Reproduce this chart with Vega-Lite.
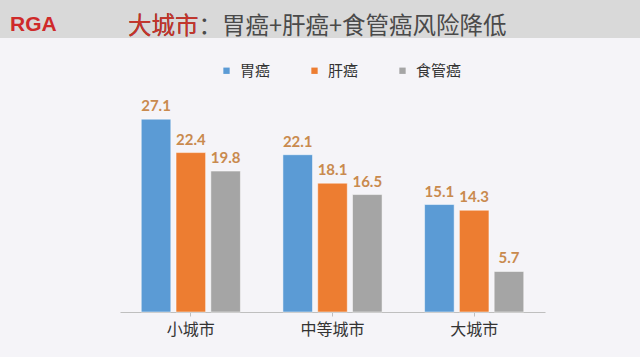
{
  "$schema": "https://vega.github.io/schema/vega-lite/v6.json",
  "background": "#f5f4f8",
  "padding": {"left": 0, "top": 0, "right": 0, "bottom": 20},
  "spacing": 0,
  "title": {
    "text": "RGA",
    "anchor": "start",
    "frame": "group",
    "dx": 10,
    "offset": -35,
    "font": "Liberation Sans",
    "fontSize": 21,
    "fontWeight": "bold",
    "color": "#cf2a2a"
  },
  "config": {"view": {"stroke": null}},
  "vconcat": [
    {
      "width": 640,
      "height": 38,
      "view": {"fill": "#d9d9d9", "stroke": null},
      "title": {
        "text": "大城市：胃癌+肝癌+食管癌风险降低",
        "subtitle": "大城市",
        "anchor": "start",
        "frame": "group",
        "dx": 128,
        "offset": -38,
        "font": "Noto Sans CJK SC",
        "fontSize": 23.5,
        "fontWeight": "normal",
        "color": "#4a4a4a",
        "subtitleFont": "Noto Sans CJK SC",
        "subtitleFontSize": 23.5,
        "subtitleColor": "#c8332a",
        "subtitlePadding": -23.5
      },
      "data": {"values": []},
      "mark": "point"
    },
    {
      "width": 545,
      "height": 274,
      "data": {
        "values": [
          {"city": "小城市", "cancer": "胃癌", "value": 27.1},
          {"city": "小城市", "cancer": "肝癌", "value": 22.4},
          {"city": "小城市", "cancer": "食管癌", "value": 19.8},
          {"city": "中等城市", "cancer": "胃癌", "value": 22.1},
          {"city": "中等城市", "cancer": "肝癌", "value": 18.1},
          {"city": "中等城市", "cancer": "食管癌", "value": 16.5},
          {"city": "大城市", "cancer": "胃癌", "value": 15.1},
          {"city": "大城市", "cancer": "肝癌", "value": 14.3},
          {"city": "大城市", "cancer": "食管癌", "value": 5.7}
        ]
      },
      "encoding": {
        "x": {
          "field": "city",
          "type": "nominal",
          "sort": ["小城市", "中等城市", "大城市"],
          "scale": {"paddingInner": 0.3, "paddingOuter": 0.15, "range": [120, 545]},
          "axis": {
            "title": null,
            "labelAngle": 0,
            "labelFont": "Noto Sans CJK SC",
            "labelFontSize": 16,
            "labelColor": "#333333",
            "labelPadding": 5,
            "domainColor": "#bfbfbf",
            "tickColor": "#bfbfbf",
            "tickSize": 4
          }
        },
        "xOffset": {
          "field": "cancer",
          "type": "nominal",
          "sort": ["胃癌", "肝癌", "食管癌"],
          "scale": {"paddingInner": 0.15, "paddingOuter": 0}
        },
        "y": {
          "field": "value",
          "type": "quantitative",
          "scale": {"domain": [0, 38.5], "nice": false},
          "axis": null
        }
      },
      "layer": [
        {
          "mark": {"type": "bar", "stroke": "#ffffff", "strokeWidth": 0.5},
          "encoding": {
            "color": {
              "field": "cancer",
              "type": "nominal",
              "sort": ["胃癌", "肝癌", "食管癌"],
              "scale": {"domain": ["胃癌", "肝癌", "食管癌"], "range": ["#5b9bd5", "#ed7d31", "#a5a5a5"]},
              "legend": {
                "title": null,
                "orient": "none",
                "direction": "horizontal",
                "legendX": 219,
                "legendY": 63,
                "padding": 0,
                "symbolType": "square",
                "symbolSize": 40,
                "symbolStrokeWidth": 0,
                "labelFont": "Noto Sans CJK SC",
                "labelFontSize": 15,
                "labelColor": "#333333",
                "labelOffset": 6,
                "columnPadding": 36
              }
            }
          }
        },
        {
          "mark": {
            "type": "text",
            "baseline": "bottom",
            "dy": -5,
            "font": "Lato",
            "fontSize": 15,
            "fontWeight": "bold",
            "color": "#c98a4e"
          },
          "encoding": {
            "text": {"field": "value", "type": "quantitative", "format": ".1f"}
          }
        }
      ]
    }
  ]
}
